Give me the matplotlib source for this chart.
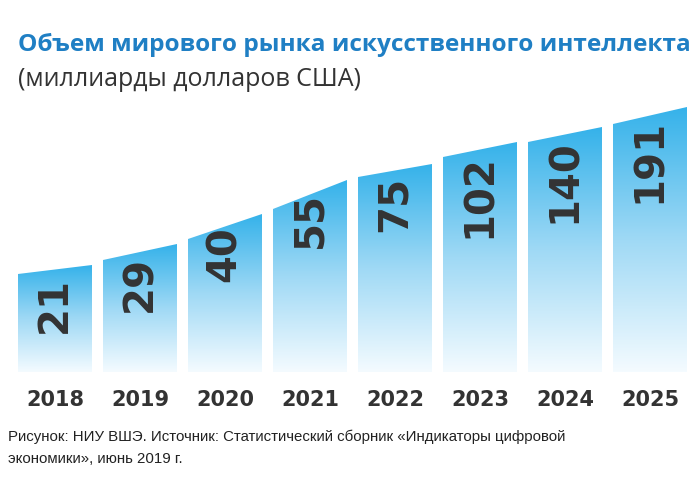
import matplotlib
matplotlib.use("Agg")
import matplotlib.pyplot as plt
import numpy as np
from matplotlib.patches import Polygon
from matplotlib.colors import LinearSegmentedColormap

years = ["2018", "2019", "2020", "2021", "2022", "2023", "2024", "2025"]
values = [21, 29, 40, 55, 75, 102, 140, 191]
# stylised visual heights (pixels above baseline) of left and right top corners
top_left = [98, 112, 133, 163, 195, 215, 230, 248]
top_right = [107, 128, 158, 192, 208, 230, 245, 265]

W, H = 700, 493
fig = plt.figure(figsize=(7, 4.93), dpi=100)
ax = fig.add_axes([0, 0, 1, 1])
ax.set_xlim(0, W)
ax.set_ylim(H, 0)
ax.axis("off")

base = 372
x0, step, bw = 18, 85, 74
grad = np.linspace(0, 1, 256).reshape(-1, 1)
cmap = LinearSegmentedColormap.from_list("g", ["#35b2ea", "#9fd9f5", "#f4fbff"])
for i, (y, v) in enumerate(zip(years, values)):
    xl = x0 + i * step
    xr = xl + bw
    yl = base - top_left[i]
    yr = base - top_right[i]
    poly = Polygon([(xl, base), (xl, yl), (xr, yr), (xr, base)], closed=True,
                   facecolor="none", edgecolor="white", lw=1)
    ax.add_patch(poly)
    im = ax.imshow(grad, cmap=cmap, extent=(xl, xr, base, min(yl, yr)),
                   aspect="auto", zorder=1)
    im.set_clip_path(poly)
    ax.text((xl + xr) / 2, yr + 12, str(v), rotation=90, ha="center", va="top",
            fontsize=29, fontweight="bold", color="#333333", family="DejaVu Sans",
            zorder=3)
    ax.text((xl + xr) / 2, 400, y, ha="center", va="center", fontsize=15,
            fontweight="bold", color="#333333", family="DejaVu Sans")

ax.text(18, 45, "Объем мирового рынка искусственного интеллекта", fontsize=17.6,
        fontweight="bold", color="#1f7fc4", va="center", family="Open Sans")
ax.text(18, 80, "(миллиарды долларов США)", fontsize=18, color="#333333",
        va="center", family="Open Sans")
ax.text(8, 437, "Рисунок: НИУ ВШЭ. Источник: Статистический сборник «Индикаторы цифровой",
        fontsize=10.8, va="center", color="#222222", family="Liberation Sans")
ax.text(8, 459, "экономики», июнь 2019 г.", fontsize=10.8, va="center",
        color="#222222", family="Liberation Sans")
fig.savefig("out.png", dpi=100)
